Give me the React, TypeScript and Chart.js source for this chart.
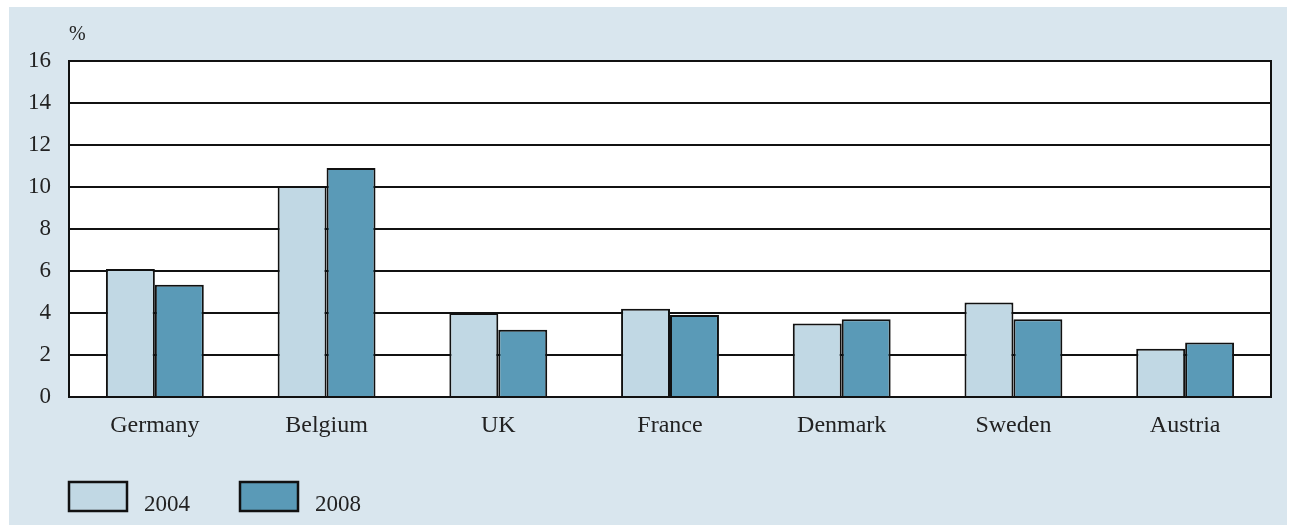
import React, { useEffect, useRef } from "react";
import { Chart, registerables } from "chart.js";

Chart.register(...registerables);

const categories = ["Germany", "Belgium", "UK", "France", "Denmark", "Sweden", "Austria"];
const values2004 = [6.1, 10.05, 4.0, 4.2, 3.5, 4.5, 2.3];
const values2008 = [5.35, 10.9, 3.2, 3.9, 3.7, 3.7, 2.6];
const seriesLabels = ["2004", "2008"];
const yTicks = [0, 2, 4, 6, 8, 10, 12, 14, 16];
const unitLabel = "%";

const LIGHT = "#c1d8e4";
const DARK = "#5a9ab7";
const FONT = "'Liberation Serif', serif";
const TEXT = "#222222";

export default function App() {
  const ref = useRef<HTMLCanvasElement | null>(null);

  useEffect(() => {
    document.body.style.margin = "0";
    const canvas = ref.current;
    if (!canvas) return;

    const decor = {
      id: "decor",
      beforeDraw(chart: any) {
        const { ctx, chartArea } = chart;
        ctx.save();
        ctx.fillStyle = "#ffffff";
        ctx.fillRect(chartArea.left, chartArea.top, chartArea.right - chartArea.left, chartArea.bottom - chartArea.top);
        ctx.restore();
      },
      afterDraw(chart: any) {
        const { ctx, chartArea } = chart;
        ctx.save();
        ctx.strokeStyle = "#111";
        ctx.lineWidth = 2;
        ctx.strokeRect(chartArea.left, chartArea.top, chartArea.right - chartArea.left, chartArea.bottom - chartArea.top);
        // unit label
        ctx.fillStyle = TEXT;
        ctx.font = `20px ${FONT}`;
        ctx.textAlign = "left";
        ctx.textBaseline = "alphabetic";
        ctx.fillText(unitLabel, 69, 40);
        // legend
        const items = chart.data.datasets.map((d: any) => ({ label: d.label, color: d.backgroundColor }));
        const xs = [69, 240];
        items.forEach((it: any, i: number) => {
          const x = xs[i];
          ctx.fillStyle = it.color;
          ctx.fillRect(x, 482, 58, 29);
          ctx.strokeStyle = "#111";
          ctx.lineWidth = 2.5;
          ctx.strokeRect(x, 482, 58, 29);
          ctx.fillStyle = TEXT;
          ctx.font = `23px ${FONT}`;
          ctx.fillText(it.label, x + 75, 511);
        });
        ctx.restore();
      },
    };

    const chart = new Chart(canvas, {
      type: "bar",
      data: {
        labels: categories,
        datasets: [
          {
            label: seriesLabels[0],
            data: values2004,
            backgroundColor: LIGHT,
            borderColor: "#111",
            borderWidth: 2,
            barPercentage: 1.0,
            categoryPercentage: 0.57,
          },
          {
            label: seriesLabels[1],
            data: values2008,
            backgroundColor: DARK,
            borderColor: "#111",
            borderWidth: 2,
            barPercentage: 1.0,
            categoryPercentage: 0.57,
          },
        ],
      },
      options: {
        responsive: false,
        animation: false,
        layout: { padding: { top: 61, right: 22, left: 0, bottom: 0 } },
        plugins: {
          legend: { display: false },
          tooltip: { enabled: false },
        },
        scales: {
          x: {
            grid: { display: false, drawTicks: false },
            border: { display: true, color: "#111", width: 2 },
            ticks: {
              color: TEXT,
              font: { family: FONT, size: 24 },
              padding: 14,
            },
            afterFit: (s: any) => {
              s.height = 128;
            },
          },
          y: {
            min: 0,
            max: 16,
            afterBuildTicks: (s: any) => {
              s.ticks = yTicks.map((v) => ({ value: v }));
            },
            grid: { color: "#111", lineWidth: 2, drawTicks: false },
            border: { display: true, color: "#111", width: 2 },
            ticks: {
              color: TEXT,
              font: { family: FONT, size: 23 },
              padding: 18,
            },
            afterFit: (s: any) => {
              s.width = 69;
            },
          },
        },
      },
      plugins: [decor],
    });
    return () => chart.destroy();
  }, []);

  return (
    <div style={{ position: "relative", width: 1293, height: 525, overflow: "hidden" }}>
      <div
        style={{
          position: "absolute",
          left: 9,
          top: 7,
          width: 1278,
          height: 518,
          background: "#d9e6ee",
        }}
      />
      <canvas
        ref={ref}
        width={1293}
        height={525}
        style={{ position: "absolute", left: 0, top: 0, width: 1293, height: 525 }}
      />
    </div>
  );
}
